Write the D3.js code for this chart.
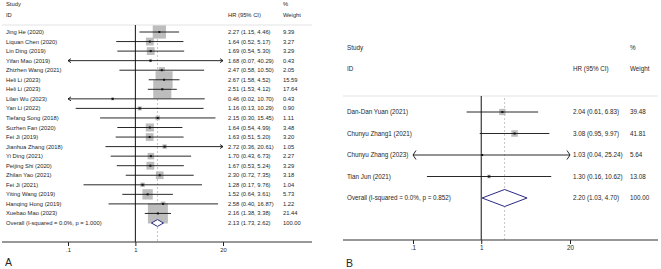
<!DOCTYPE html>
<html>
<head>
<meta charset="utf-8">
<script src="https://cdn.jsdelivr.net/npm/d3@7"></script>
<style>
    body { margin: 0; background: #fff; }
    svg { display: block; font-family: "Liberation Sans", Arial, sans-serif; }
    .lbl { fill: #262626; }
</style>
</head>
<body>
<div id="chart"></div>
<script>
// panel A data
var studiesA = ["Jing He (2020)", "Liquan Chen (2020)", "Lin Ding (2019)", "Yifan Mao (2019)",
    "Zhizhen Wang (2021)", "Heli Li (2023)", "Heli Li (2023)", "Lilan Wu (2023)", "Yan Li (2022)",
    "Tiefang Song (2018)", "Suzhen Fan (2020)", "Fei Ji (2019)", "Jianhua Zhang (2018)", "Yi Ding (2021)",
    "Peijing Shi (2020)", "Zhilan Yao (2021)", "Fei Ji (2021)", "Yiting Wang (2019)",
    "Hanqing Hong (2019)", "Xuebao Mao (2023)"];
var hrA = [2.27, 1.64, 1.69, 1.68, 2.47, 2.67, 2.51, 0.46, 1.16, 2.15, 1.64, 1.63, 2.72, 1.70, 1.67, 2.30, 1.28, 1.52, 2.58, 2.16];
var lowA = [1.15, 0.52, 0.54, 0.07, 0.58, 1.58, 1.53, 0.02, 0.13, 0.30, 0.54, 0.51, 0.36, 0.43, 0.53, 0.72, 0.17, 0.64, 0.40, 1.38];
var highA = [4.46, 5.17, 5.30, 40.29, 10.50, 4.52, 4.12, 10.70, 10.29, 15.45, 4.99, 5.20, 20.61, 6.73, 5.24, 7.35, 9.76, 3.61, 16.87, 3.38];
var weightA = [9.39, 3.27, 3.29, 0.43, 2.05, 15.59, 17.64, 0.43, 0.90, 1.11, 3.48, 3.20, 1.05, 2.27, 3.29, 3.18, 1.04, 5.73, 1.22, 21.44];
var overallA = {label: "Overall  (I-squared = 0.0%, p = 1.000)", hr: 2.13, low: 1.73, high: 2.62, weight: 100.00};

// panel B data
var studiesB = ["Dan-Dan Yuan (2021)", "Chunyu Zhang1 (2021)", "Chunyu Zhang (2023)", "Tian Jun (2021)"];
var hrB = [2.04, 3.08, 1.03, 1.30];
var lowB = [0.61, 0.95, 0.04, 0.16];
var highB = [6.83, 9.97, 25.24, 10.62];
var weightB = [39.48, 41.81, 5.64, 13.08];
var overallB = {label: "Overall  (I-squared = 0.0%, p = 0.852)", hr: 2.20, low: 1.03, high: 4.70, weight: 100.00};

var tickVals = [0.1, 1, 20];
var tickLabels = [".1", "1", "20"];

var svg = d3.select("#chart").append("svg")
    .attr("width", 661)
    .attr("height", 269);

var fmt = d3.format(".2f");

function drawForest(cfg, studies, hr, low, high, weight, overall) {
    var g = svg.append("g");
    var rows = studies.map(function(s, i) {
        return {label: s, hr: hr[i], low: low[i], high: high[i], weight: weight[i]};
    });
    var n = rows.length;

    var x = d3.scaleLog().domain([tickVals[0], tickVals[tickVals.length - 1]]).range([cfg.tickLeft, cfg.tickRight]);
    var y = d3.scaleLinear().domain([0, n]).range([cfg.rowTop, cfg.rowBottom]);
    var box = d3.scaleSqrt().domain([0, d3.max(weight)]).range([0, cfg.maxBox]);
    var lo = x.domain()[0], hi = x.domain()[1];

    // header
    g.append("text").attr("class", "lbl").attr("x", cfg.left + 4).attr("y", cfg.headTop)
        .attr("dy", "0.35em").style("font-size", cfg.font + "px").text("Study");
    g.append("text").attr("class", "lbl").attr("x", cfg.left + 4).attr("y", cfg.headBottom)
        .attr("dy", "0.35em").style("font-size", cfg.font + "px").text("ID");
    g.append("text").attr("class", "lbl").attr("x", cfg.hrX).attr("y", cfg.headBottom)
        .attr("dy", "0.35em").style("font-size", cfg.font + "px").text("HR (95% CI)");
    g.append("text").attr("class", "lbl").attr("x", cfg.wX).attr("y", cfg.headTop)
        .attr("dy", "0.35em").style("font-size", cfg.font + "px").text("%");
    g.append("text").attr("class", "lbl").attr("x", cfg.wX).attr("y", cfg.headBottom)
        .attr("dy", "0.35em").style("font-size", cfg.font + "px").text("Weight");

    g.append("line")
        .attr("x1", cfg.left).attr("x2", cfg.right)
        .attr("y1", cfg.sepY).attr("y2", cfg.sepY)
        .attr("stroke", "#e3e3e3").attr("stroke-width", 1);

    // null line and overall dashed line
    g.append("line")
        .attr("x1", x(1)).attr("x2", x(1))
        .attr("y1", cfg.sepY).attr("y2", cfg.axisY)
        .attr("stroke", "#111").attr("stroke-width", 1);
    g.append("line")
        .attr("x1", x(overall.hr)).attr("x2", x(overall.hr))
        .attr("y1", cfg.sepY + 2).attr("y2", cfg.axisY)
        .attr("stroke", "#b5b5b5").attr("stroke-width", 0.8)
        .attr("stroke-dasharray", "2,2");

    // boxes
    g.selectAll(".box").data(rows).enter().append("rect")
        .attr("class", "box")
        .attr("x", function(d) { return x(d.hr) - box(d.weight) / 2; })
        .attr("y", function(d, i) { return y(i) - box(d.weight) / 2; })
        .attr("width", function(d) { return box(d.weight); })
        .attr("height", function(d) { return box(d.weight); })
        .attr("fill", "#bdbdbd");

    // CI lines, clipped to the tick range
    g.selectAll(".ci").data(rows).enter().append("line")
        .attr("class", "ci")
        .attr("x1", function(d) { return x(Math.max(d.low, lo)); })
        .attr("x2", function(d) { return x(Math.min(d.high, hi)); })
        .attr("y1", function(d, i) { return y(i); })
        .attr("y2", function(d, i) { return y(i); })
        .attr("stroke", "#111").attr("stroke-width", 0.9);

    // arrows where CI goes past the range
    rows.forEach(function(d, i) {
        var yy = y(i);
        if (d.low < lo) {
            var xl = x(lo);
            g.append("path")
                .attr("d", "M" + (xl + cfg.arrW) + "," + (yy - cfg.arrH) + "L" + xl + "," + yy + "L" + (xl + cfg.arrW) + "," + (yy + cfg.arrH))
                .attr("fill", "none").attr("stroke", "#111").attr("stroke-width", 0.9);
        }
        if (d.high > hi) {
            var xr = x(hi);
            g.append("path")
                .attr("d", "M" + (xr - cfg.arrW) + "," + (yy - cfg.arrH) + "L" + xr + "," + yy + "L" + (xr - cfg.arrW) + "," + (yy + cfg.arrH))
                .attr("fill", "none").attr("stroke", "#111").attr("stroke-width", 0.9);
        }
    });

    // center dots
    g.selectAll(".dot").data(rows).enter().append("rect")
        .attr("class", "dot")
        .attr("x", function(d) { return x(d.hr) - 1; })
        .attr("y", function(d, i) { return y(i) - 1; })
        .attr("width", 2).attr("height", 2)
        .attr("fill", "#111");

    // overall diamond
    var oy = y(n);
    g.append("path")
        .attr("d", "M" + x(overall.low) + "," + oy +
            "L" + x(overall.hr) + "," + (oy - cfg.diaH) +
            "L" + x(overall.high) + "," + oy +
            "L" + x(overall.hr) + "," + (oy + cfg.diaH) + "Z")
        .attr("fill", "#fff").attr("stroke", "#2a2a85").attr("stroke-width", 1);

    // row labels and values
    var all = rows.concat([overall]);
    g.selectAll(".study").data(all).enter().append("text")
        .attr("class", "lbl")
        .attr("x", cfg.left + 4)
        .attr("y", function(d, i) { return y(i); })
        .attr("dy", "0.35em")
        .style("font-size", cfg.font + "px")
        .text(function(d) { return d.label; });
    g.selectAll(".hrtxt").data(all).enter().append("text")
        .attr("class", "lbl")
        .attr("x", cfg.hrX)
        .attr("y", function(d, i) { return y(i); })
        .attr("dy", "0.35em")
        .style("font-size", cfg.font + "px")
        .text(function(d) { return fmt(d.hr) + " (" + fmt(d.low) + ", " + fmt(d.high) + ")"; });
    g.selectAll(".wtxt").data(all).enter().append("text")
        .attr("class", "lbl")
        .attr("x", cfg.wX)
        .attr("y", function(d, i) { return y(i); })
        .attr("dy", "0.35em")
        .style("font-size", cfg.font + "px")
        .text(function(d) { return fmt(d.weight); });

    // x axis
    var xAxis = d3.axisBottom(x).tickValues(tickVals)
        .tickFormat(function(d, i) { return tickLabels[i]; })
        .tickSize(4).tickSizeOuter(0);
    var ax = g.append("g")
        .attr("transform", "translate(0," + cfg.axisY + ")")
        .call(xAxis);
    ax.select(".domain").remove();
    ax.selectAll(".tick line").attr("stroke", "#222");
    ax.selectAll(".tick text").attr("fill", "#262626").attr("y", 6)
        .style("font-size", cfg.font + "px").style("font-family", "Liberation Sans, Arial, sans-serif");
    ax.append("line")
        .attr("x1", cfg.left).attr("x2", cfg.right)
        .attr("y1", 0).attr("y2", 0)
        .attr("stroke", "#333").attr("stroke-width", 1.2);

    g.append("text").attr("class", "lbl")
        .attr("x", cfg.left + 3).attr("y", cfg.tagY)
        .attr("dy", "0.35em")
        .style("font-size", "10.5px")
        .text(cfg.tag);
}

drawForest({
    tag: "A", left: 2, right: 312, tickLeft: 68, tickRight: 223,
    rowTop: 32, rowBottom: 223, headTop: 4, headBottom: 15, sepY: 25,
    axisY: 242, tagY: 262, hrX: 228, wX: 283, font: 5.8, maxBox: 20,
    diaH: 3.4, arrW: 3, arrH: 2
}, studiesA, hrA, lowA, highA, weightA, overallA);

drawForest({
    tag: "B", left: 343, right: 658, tickLeft: 413, tickRight: 570,
    rowTop: 112, rowBottom: 198, headTop: 48, headBottom: 69, sepY: 96,
    axisY: 240, tagY: 263, hrX: 573, wX: 630, font: 6.3, maxBox: 6.5,
    diaH: 8.5, arrW: 3, arrH: 4.5
}, studiesB, hrB, lowB, highB, weightB, overallB);
</script>
</body>
</html>
